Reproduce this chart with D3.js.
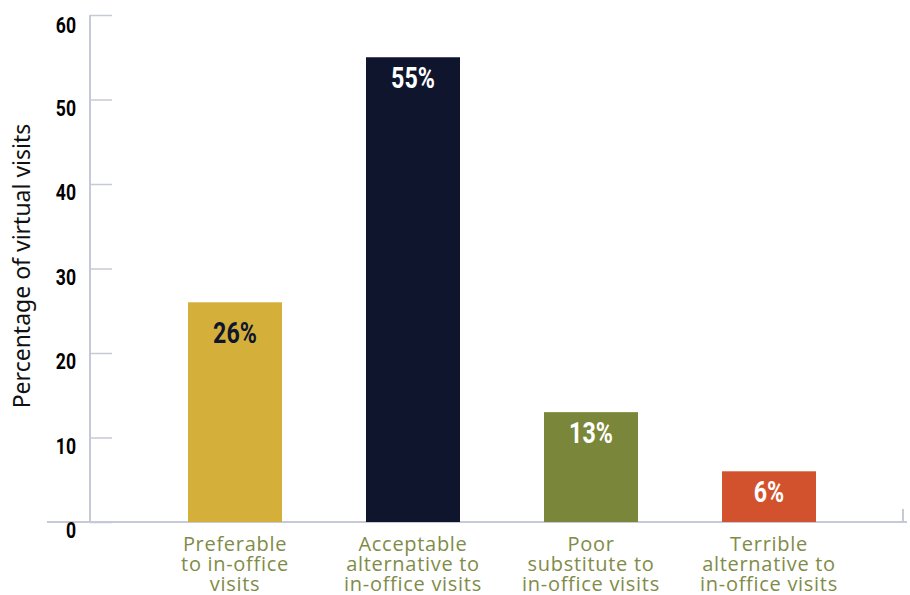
<!DOCTYPE html>
<html>
<head>
<meta charset="utf-8">
<script src="https://cdn.jsdelivr.net/npm/d3@7"></script>
<style>
  html, body { margin: 0; padding: 0; background: #ffffff; }
  svg { display: block; }
</style>
</head>
<body>
<svg id="chart" width="910" height="595"></svg>
<script>
// Survey responses: how virtual visits compare with in-office visits
const categories = [
  ["Preferable", "to in-office", "visits"],
  ["Acceptable", "alternative to", "in-office visits"],
  ["Poor", "substitute to", "in-office visits"],
  ["Terrible", "alternative to", "in-office visits"]
];
const values = [26, 55, 13, 6];
const valueLabels = ["26%", "55%", "13%", "6%"];
const yTicks = [0, 10, 20, 30, 40, 50, 60];
const yTitle = "Percentage of virtual visits";

// Presentation settings
const barColors = ["#d4b03a", "#10152e", "#7a873b", "#d2522d"];
const labelColors = ["#10152e", "#ffffff", "#ffffff", "#ffffff"];
const labelDrop = [41, 31, 31, 31];
const axisColor = "#c6cad7";
const catColor = "#7f8c48";
const numFont = "'Roboto', 'Liberation Sans', sans-serif";
const textFont = "'Open Sans', 'Noto Sans', sans-serif";
const squeeze = 0.8; // horizontal condensing of the bold numerals

const svg = d3.select("#chart");

const y = d3.scaleLinear().domain([0, 60]).range([522, 15]);
const x = d3.scaleBand()
  .domain(d3.range(values.length))
  .range([188, 816])
  .paddingInner(0.472)
  .paddingOuter(0);

// x baseline with closing tick on the right
svg.append("line")
  .attr("x1", 47).attr("x2", 907)
  .attr("y1", y(0)).attr("y2", y(0))
  .attr("stroke", axisColor).attr("stroke-width", 2);
svg.append("line")
  .attr("x1", 903).attr("x2", 903)
  .attr("y1", y(0) - 13).attr("y2", y(0))
  .attr("stroke", axisColor).attr("stroke-width", 2);

// y axis
const yAxis = d3.axisRight(y)
  .tickValues(yTicks)
  .tickSize(22)
  .tickFormat("");
const yg = svg.append("g")
  .attr("transform", "translate(90,0)")
  .call(yAxis);
yg.select(".domain")
  .attr("stroke", axisColor).attr("stroke-width", 2)
  .attr("d", `M0,${y(60)}V${y(0)}`);
yg.selectAll(".tick line")
  .attr("stroke", axisColor).attr("stroke-width", 1.5);

// y tick labels
svg.append("g").selectAll("text")
  .data(yTicks)
  .join("text")
  .attr("transform", d => `translate(76,${y(d) + (d === 60 ? 1.5 : 0) + 16}) scale(${squeeze},1)`)
  .attr("text-anchor", "end")
  .attr("font-family", numFont)
  .attr("font-weight", "bold")
  .attr("font-size", 22)
  .attr("fill", "#000")
  .text(d => d);

// y title
svg.append("text")
  .attr("transform", "translate(30,266) rotate(-90)")
  .attr("text-anchor", "middle")
  .attr("font-family", "'Noto Sans', 'Open Sans', sans-serif")
  .attr("font-size", 23)
  .attr("fill", "#111")
  .text(yTitle);

// bars
svg.append("g").selectAll("rect")
  .data(values)
  .join("rect")
  .attr("x", (d, i) => x(i))
  .attr("y", d => y(d))
  .attr("width", x.bandwidth())
  .attr("height", d => y(0) - y(d))
  .attr("fill", (d, i) => barColors[i]);

// value labels
svg.append("g").selectAll("text")
  .data(values)
  .join("text")
  .attr("transform", (d, i) =>
    `translate(${x(i) + x.bandwidth() / 2},${y(d) + labelDrop[i]}) scale(${squeeze},1)`)
  .attr("text-anchor", "middle")
  .attr("font-family", numFont)
  .attr("font-weight", "bold")
  .attr("font-size", 29)
  .attr("fill", (d, i) => labelColors[i])
  .text((d, i) => valueLabels[i]);

// category labels
const cat = svg.append("g").selectAll("text")
  .data(categories)
  .join("text")
  .attr("x", (d, i) => x(i) + x.bandwidth() / 2)
  .attr("y", 551)
  .attr("text-anchor", "middle")
  .attr("font-family", textFont)
  .attr("font-size", 20)
  .attr("letter-spacing", 0.7)
  .attr("fill", catColor);
cat.selectAll("tspan")
  .data((d, i) => d.map(t => ({ t, cx: x(i) + x.bandwidth() / 2 })))
  .join("tspan")
  .attr("x", d => d.cx)
  .attr("dy", (d, j) => j === 0 ? 0 : 20)
  .text(d => d.t);
</script>
</body>
</html>
